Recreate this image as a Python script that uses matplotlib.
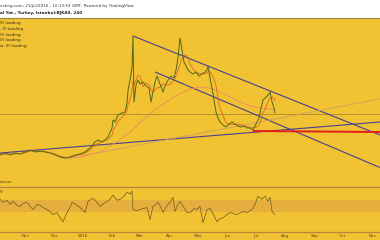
import matplotlib
matplotlib.use("Agg")
import matplotlib.pyplot as plt
import numpy as np
import pandas as pd

# ---- data (days since 2016-01-01) ----
price_days = [-87.6, -82.3, -77.0, -71.7, -66.5, -61.2, -55.9, -50.6, -45.4, -40.1, -34.8, -29.5,
              -24.3, -19.0, -13.7, -8.4, -3.2, 2.1, 7.4, 12.7, 15.8, 20.0, 23.2, 26.4, 30.6, 31.6,
              33.8, 36.9, 41.1, 44.3, 46.4, 47.5, 49.6, 51.7, 52.7, 53.8, 55.9, 58.0, 60.1, 63.3,
              66.5, 69.6, 71.7, 73.8, 76.0, 78.1, 81.2, 84.4, 86.5, 89.7, 92.8, 96.0, 98.1, 100.2,
              102.3, 104.4, 106.5, 108.7, 110.8, 112.9, 116.0, 119.2, 122.4, 125.5, 128.7, 130.8,
              131.9, 134.0, 136.1, 138.2, 140.3, 142.4, 144.5, 147.7, 150.8, 154.0, 157.2, 160.3,
              163.5, 166.7, 169.8, 173.0, 176.2, 179.3, 182.5, 185.7, 187.8, 189.9, 192.0, 194.1,
              196.2, 197.3, 199.4, 201.5, 202.5]
price = [1.554, 1.589, 1.554, 1.589, 1.571, 1.607, 1.643, 1.607, 1.625, 1.607, 1.589, 1.554,
         1.518, 1.500, 1.518, 1.554, 1.571, 1.607, 1.679, 1.786, 1.821, 1.786, 1.821, 1.875, 2.036, 2.179,
         2.143, 2.268, 2.304, 2.321, 2.482, 2.714, 2.893, 3.125, 3.679, 2.500, 2.804, 2.893, 2.821, 2.857,
         2.786, 2.750, 2.500, 2.679, 2.857, 2.964, 2.821, 2.679, 2.786, 2.893, 2.964, 2.929, 3.071, 3.286,
         3.643, 3.429, 3.214, 3.143, 3.071, 3.036, 3.000, 3.036, 2.964, 3.000, 3.036, 3.071,
         3.143, 2.929, 2.750, 2.536, 2.321, 2.214, 2.143, 2.089, 2.054, 2.107, 2.143, 2.107,
         2.071, 2.054, 2.071, 2.036, 2.036, 2.000, 2.107, 2.214, 2.393, 2.536, 2.571, 2.607,
         2.643, 2.679, 2.500, 2.393, 2.304]

slow_ma_days = [-24.3, -3.2, 17.9, 33.8, 49.6, 65.4, 81.2, 97.0, 112.9, 123.4, 134.0, 144.5,
                155.1, 165.6, 176.2, 186.7, 197.3, 202.5]
slow_ma = [1.500, 1.518, 1.607, 1.768, 1.964, 2.214, 2.429, 2.607, 2.732, 2.768, 2.750, 2.679,
           2.589, 2.500, 2.429, 2.393, 2.375, 2.357]

osc_days = [-87.6, -84.4, -80.2, -77.0, -73.8, -69.6, -66.5, -63.3, -59.1, -55.9, -52.7, -48.5,
            -45.4, -42.2, -38.0, -34.8, -31.6, -27.4, -24.3, -21.1, -16.9, -13.7, -11.6, -7.4,
            -3.2, 2.1, 5.3, 10.5, 14.8, 17.9, 22.2, 25.3, 28.5, 31.6, 35.9, 39.0, 43.2, 46.4,
            49.6, 51.7, 52.7, 57.0, 60.1, 64.3, 67.5, 70.7, 73.8, 77.0, 79.1, 82.3, 84.4, 88.6,
            91.8, 94.9, 97.0, 100.2, 102.3, 106.5, 109.7, 112.9, 117.1, 120.3, 123.4, 126.6,
            130.8, 134.0, 137.1, 141.4, 144.5, 147.7, 151.9, 155.1, 159.3, 162.4, 166.7, 169.8,
            173.0, 176.2, 178.3, 181.4, 184.6, 188.8, 192.0, 195.1, 197.3, 199.4, 202.5]
osc = [72.7, 65.9, 70.5, 61.4, 68.2, 59.1, 56.8, 63.6, 65.9, 56.8, 50.0, 61.4,
       59.1, 54.5, 50.0, 45.5, 38.6, 43.2, 31.8, 22.7, 43.2, 54.5, 65.9, 61.4,
       54.5, 43.2, 68.2, 75.0, 65.9, 56.8, 63.6, 68.2, 72.7, 81.8, 70.5, 72.7, 79.5, 88.6,
       84.1, 90.9, 50.0, 47.7, 50.0, 52.3, 54.5, 27.3, 56.8, 61.4, 65.9, 54.5, 43.2, 59.1,
       65.9, 77.3, 45.5, 61.4, 68.2, 54.5, 43.2, 43.2, 52.3, 50.0, 56.8, 20.5,
       50.0, 52.3, 40.9, 22.7, 29.5, 31.8, 38.6, 43.2, 40.9, 38.6, 43.2, 45.5,
       43.2, 47.7, 50.0, 61.4, 79.5, 72.7, 79.5, 68.2, 77.3, 45.5, 38.6]
osc_band = [45.5, 70.5]

# trend lines: (day0, price0, day1, price1)
upper_channel = [52.7, 3.679, 313.3, 1.911]
lower_channel = [76.0, 3.036, 313.3, 1.330]
long_support = [-87.6, 1.589, 313.3, 2.143]
tan_line = [-19.0, 1.482, 313.3, 2.554]
red_level = [179.3, 1.982, 313.3, 1.964]
h_level = 2.286

tick_days = [-61, -30, 0, 31, 60, 91, 121, 152, 182, 213, 244, 274, 305]
tick_labels = ["Nov", "Dec", "2016", "Feb", "Mar", "Apr", "May", "Jun", "Jul", "Aug", "Sep", "Oct", "Nov"]

legend_lines = ["9) loading", ", 0) loading", "0) loading", "0) loading", "w, 0) loading"]
header1 = "esting.com, 21/Jul/2016 - 10:13:53 GMT, Powered by TradingView."
header2 = "al Yat., Turkey, Istanbul:BJKAS, 240"

# ---- style ----
GOLD = "#F1C232"
BAND = "#E6AE3E"
PURPLE = "#4a3f94"
XMIN, XMAX = -87.6, 313.3

fig = plt.figure(figsize=(3.8, 2.4), dpi=100, facecolor="white")
bg = fig.add_axes([0, 0, 1, 1 - 18 / 240], zorder=-10)
bg.set_facecolor(GOLD)
bg.set_xticks([]); bg.set_yticks([])
for k, sp in bg.spines.items():
    sp.set_visible(k == "top")
    sp.set_color("#a08838"); sp.set_linewidth(0.8)

ax = fig.add_axes([0, 1 - 186 / 240, 1, 168 / 240])
ax.set_facecolor("none")
ax.set_xlim(XMIN, XMAX)
ax.set_ylim(1.0, 4.0)
for s_ in ax.spines.values():
    s_.set_visible(False)
ax.set_xticks([])
ax.set_yticks([])

ax.axhline(h_level, color="#a88a2a", lw=0.6)
for ln, col, lw in [(upper_channel, PURPLE, 0.8), (lower_channel, PURPLE, 0.8),
                    (long_support, PURPLE, 0.8), (tan_line, "#c9a066", 0.6),
                    (red_level, "#e3201c", 1.4)]:
    ax.plot([ln[0], ln[2]], [ln[1], ln[3]], color=col, lw=lw, solid_capstyle="butt")

ax.plot(slow_ma_days, slow_ma, color="#f08a5a", lw=0.6)
s = pd.Series(price, index=pd.to_datetime("2016-01-01") + pd.to_timedelta(price_days, unit="D"))
fast = s.rolling("10D").mean()
ax.plot(price_days, fast.values, color="#e0541e", lw=0.5)
ax.plot(price_days, price, color="#4f6a1c", lw=0.7)

fig.text(0.0, 1 - 182 / 240, "d.com", fontsize=3, color="#5a4a20", va="center", ha="left")
for i, t in enumerate(legend_lines):
    fig.text(0.0, 1 - (23.3 + i * 5.65) / 240, t, fontsize=3, color="#3a3020", va="center", ha="left")

fig.text(0.0, 1 - 5.7 / 240, header1, fontsize=3, color="#333333", va="center", ha="left")
fig.text(0.0, 1 - 13.3 / 240, header2, fontsize=3, color="#222222", va="center", ha="left",
         fontweight="bold")

# oscillator panel
ax2 = fig.add_axes([0, 1 - 232 / 240, 1, 45 / 240])
ax2.set_facecolor("none")
ax2.set_xlim(XMIN, XMAX)
ax2.set_ylim(0, 100)
for k, sp in ax2.spines.items():
    sp.set_visible(k in ("top", "bottom"))
    sp.set_color("#b8843c")
    sp.set_linewidth(0.9)
ax2.axhspan(osc_band[0], osc_band[1], color=BAND, lw=0)
ax2.plot(osc_days, osc, color="#6a5a1e", lw=0.5)
ax2.set_yticks([])
ax2.set_xticks(tick_days)
ax2.set_xticklabels(tick_labels, fontsize=3, color="#5a4a22")
ax2.tick_params(axis="x", length=0, pad=1.5)
fig.text(0.0, 1 - 192 / 240, "9", fontsize=3, color="#3a3020", va="center", ha="left")

fig.savefig("out.png", dpi=100, facecolor=fig.get_facecolor())
